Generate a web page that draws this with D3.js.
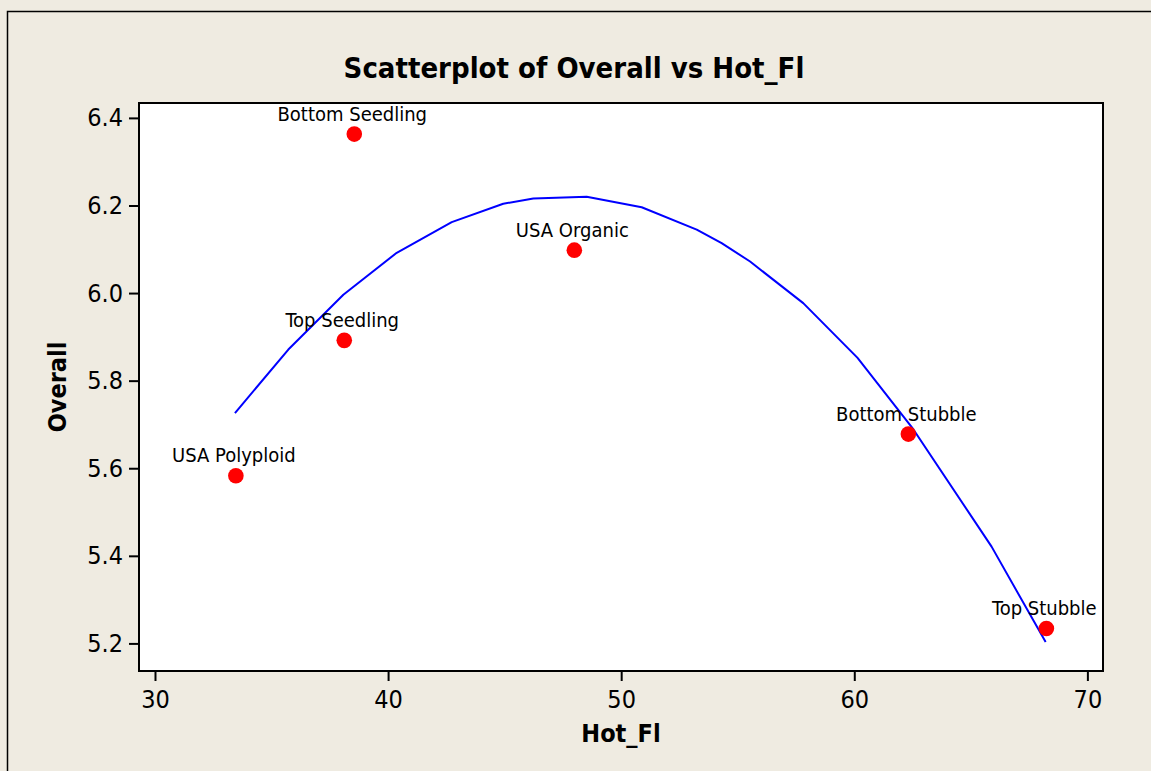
<!DOCTYPE html>
<html>
<head>
<meta charset="utf-8">
<script src="https://cdn.jsdelivr.net/npm/d3@7"></script>
<style>
  html, body { margin: 0; padding: 0; background: #efebe1; }
  svg { display: block; }
  text { font-family: "DejaVu Sans Condensed", "DejaVu Sans", sans-serif; font-stretch: condensed; fill: #000; }
</style>
</head>
<body>
<svg id="chart" width="1151" height="771"></svg>
<script>
// Observed varieties: hot flavour score vs overall rating
const varieties = ["USA Polyploid", "Top Seedling", "Bottom Seedling", "USA Organic", "Bottom Stubble", "Top Stubble"];
const hotFl     = [33.47, 38.12, 38.55, 47.99, 62.32, 68.24];
const overall   = [5.583, 5.892, 6.363, 6.098, 5.678, 5.234];

// Quadratic fit line, sampled along Hot_Fl
const fitHotFl   = [33.43, 35.72, 38.08, 40.37, 42.73, 44.94, 46.23, 48.52, 50.88, 53.24, 54.31, 55.53, 57.81, 60.14, 62.48, 65.89, 68.21];
const fitOverall = [5.726, 5.871, 5.996, 6.092, 6.162, 6.204, 6.216, 6.220, 6.196, 6.145, 6.114, 6.072, 5.977, 5.852, 5.693, 5.421, 5.203];

const xTicks = [30, 40, 50, 60, 70];
const yTicks = [5.2, 5.4, 5.6, 5.8, 6.0, 6.2, 6.4];

const W = 1151, H = 771;
const plot = { left: 139, right: 1103, top: 103, bottom: 671 };

const svg = d3.select("#chart");

// Page background and outer frame
svg.append("rect").attr("x", 0).attr("y", 0).attr("width", W).attr("height", H).attr("fill", "#efebe1");
svg.append("rect").attr("x", 7.5).attr("y", 11.5).attr("width", W).attr("height", H)
  .attr("fill", "none").attr("stroke", "#000").attr("stroke-width", 1.5);

const x = d3.scaleLinear().domain([29.314, 70.67]).range([plot.left, plot.right]);
const y = d3.scaleLinear().domain([5.137, 6.434]).range([plot.bottom, plot.top]);

// Plot area
svg.append("rect")
  .attr("x", plot.left).attr("y", plot.top)
  .attr("width", plot.right - plot.left).attr("height", plot.bottom - plot.top)
  .attr("fill", "#fff");

// Axes
const xAxis = svg.append("g")
  .attr("transform", `translate(0,${plot.bottom})`)
  .call(d3.axisBottom(x).tickValues(xTicks).tickSize(10).tickPadding(9).tickFormat(d3.format("d")));
const yAxis = svg.append("g")
  .attr("transform", `translate(${plot.left},0)`)
  .call(d3.axisLeft(y).tickValues(yTicks).tickSize(10).tickPadding(6).tickFormat(d3.format(".1f")));

[xAxis, yAxis].forEach(g => {
  g.select(".domain").remove();
  g.selectAll(".tick line").attr("stroke", "#000").attr("stroke-width", 2);
  g.selectAll(".tick text").attr("font-size", 25).attr("font-family", null).style("fill", "#000");
});

// Frame around the plot area
svg.append("rect")
  .attr("x", plot.left).attr("y", plot.top)
  .attr("width", plot.right - plot.left).attr("height", plot.bottom - plot.top)
  .attr("fill", "none").attr("stroke", "#000").attr("stroke-width", 2);

// Fitted curve
const fitData = fitHotFl.map((v, i) => [v, fitOverall[i]]);
svg.append("path")
  .datum(fitData)
  .attr("fill", "none")
  .attr("stroke", "#0000ff")
  .attr("stroke-width", 2)
  .attr("stroke-linejoin", "round")
  .attr("d", d3.line().x(d => x(d[0])).y(d => y(d[1])));

// Points and their labels
const pts = varieties.map((name, i) => ({ name, hx: hotFl[i], ov: overall[i] }));

svg.append("g").selectAll("circle")
  .data(pts).join("circle")
  .attr("cx", d => x(d.hx))
  .attr("cy", d => y(d.ov))
  .attr("r", 7.8)
  .attr("fill", "#ff0000");

svg.append("g").selectAll("text")
  .data(pts).join("text")
  .attr("x", d => x(d.hx) - 2)
  .attr("y", d => y(d.ov) - 13.5)
  .attr("text-anchor", "middle")
  .attr("font-size", 20)
  .text(d => d.name);

// Titles
svg.append("text")
  .attr("x", 574).attr("y", 78)
  .attr("text-anchor", "middle")
  .attr("font-size", 29).attr("font-weight", "bold")
  .text("Scatterplot of Overall vs Hot_Fl");

svg.append("text")
  .attr("x", (plot.left + plot.right) / 2).attr("y", 742)
  .attr("text-anchor", "middle")
  .attr("font-size", 25).attr("font-weight", "bold")
  .text("Hot_Fl");

svg.append("text")
  .attr("transform", `translate(66,${(plot.top + plot.bottom) / 2}) rotate(-90)`)
  .attr("text-anchor", "middle")
  .attr("font-size", 25).attr("font-weight", "bold")
  .text("Overall");
</script>
</body>
</html>
